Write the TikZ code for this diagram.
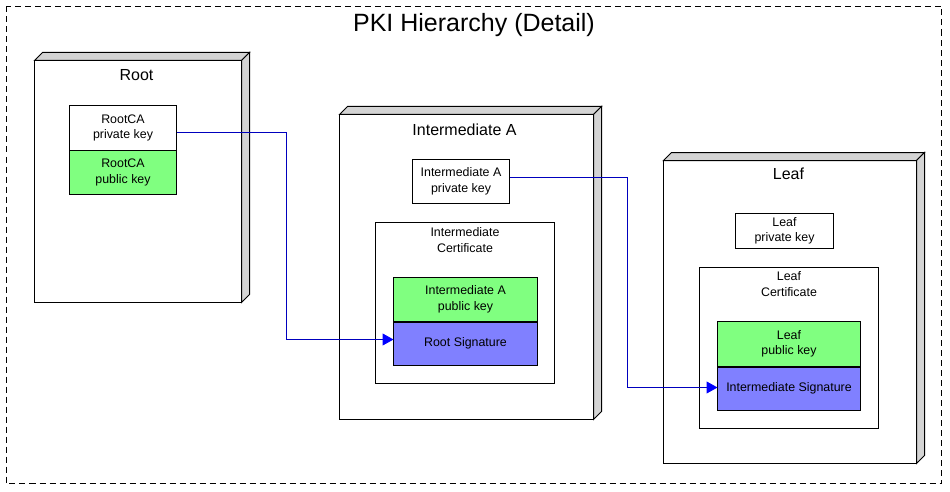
\documentclass[tikz,border=0pt]{standalone}
\usepackage{fontspec}
\setmainfont{Liberation Sans}
\usetikzlibrary{arrows.meta}
\definecolor{keygreen}{RGB}{128,255,128}
\definecolor{sigblue}{RGB}{128,128,255}
\definecolor{sidegray}{RGB}{212,212,212}
\definecolor{connblue}{RGB}{0,0,190}
\definecolor{tipblue}{RGB}{0,0,255}
\tikzset{
  small/.style={font=\fontsize{12.4}{15.5}\selectfont},
  nodebox/.style={draw=black, line width=1pt, fill=white, anchor=north west, inner sep=0pt, outer sep=0pt},
  face/.style={draw=black, line width=1pt, fill=sidegray},
  keybox/.style={draw=black, line width=1pt, fill=white, anchor=north west, inner sep=0pt, outer sep=0pt, align=center, small},
  pubbox/.style={keybox, fill=keygreen},
  sigbox/.style={keybox, fill=sigblue},
  certbox/.style={draw=black, line width=1pt, fill=white, anchor=north west, inner sep=0pt, outer sep=0pt},
  ntitle/.style={font=\fontsize{16}{19}\selectfont, inner sep=0pt},
  ctitle/.style={align=center, small, inner sep=0pt, anchor=north},
  conn/.style={draw=connblue, line width=1pt, -{Triangle[length=11pt,width=12pt,color=tipblue]}}
}
\begin{document}
\begin{tikzpicture}[x=1pt,y=-1pt]
\useasboundingbox (0,0) rectangle (950,492);
\fill[white] (0,0) rectangle (950,492);
\begin{scope}[shift={(0.5,0.5)}]
\draw[line width=1pt, dash pattern=on 6pt off 4pt] (6,6) rectangle (941,483);
\node[font=\fontsize{25}{29}\selectfont, inner sep=0pt] (title) at (473.5,25) {PKI Hierarchy (Detail)};

% Root node
\node[nodebox, minimum width=207pt, minimum height=242pt] (root) at (34,60) {};
\draw[face] (root.north west) -- ++(8,-8) -- ([xshift=8pt,yshift=8pt]root.north east) -- (root.north east) -- cycle;
\draw[face] (root.north east) -- ++(8,-8) -- ([xshift=8pt,yshift=8pt]root.south east) -- (root.south east) -- cycle;
\node[ntitle] (roott) at (136,75) {Root};
\node[keybox, minimum width=107pt, minimum height=45pt] (rpriv) at (69,105) {RootCA\\private key};
\node[pubbox, minimum width=107pt, minimum height=44pt] (rpub) at (69,150) {RootCA\\public key};

% Intermediate A node
\node[nodebox, minimum width=254pt, minimum height=305pt] (inter) at (339,114) {};
\draw[face] (inter.north west) -- ++(8,-8) -- ([xshift=8pt,yshift=8pt]inter.north east) -- (inter.north east) -- cycle;
\draw[face] (inter.north east) -- ++(8,-8) -- ([xshift=8pt,yshift=8pt]inter.south east) -- (inter.south east) -- cycle;
\node[ntitle] (intert) at (464,129) {Intermediate A};
\node[keybox, minimum width=97pt, minimum height=44pt] (ipriv) at (412,159) {Intermediate A\\private key};
\node[certbox, minimum width=179pt, minimum height=161pt] (icert) at (375,222) {};
\node[ctitle] (icertt) at (464.5,227) {Intermediate\\Certificate};
\node[pubbox, minimum width=144pt, minimum height=44pt] (ipub) at (393,277) {Intermediate A\\public key};
\node[sigbox, minimum width=144pt, minimum height=44pt] (isig) at (393,321) {Root Signature};

% Leaf node
\node[nodebox, minimum width=253pt, minimum height=303pt] (leaf) at (663,160) {};
\draw[face] (leaf.north west) -- ++(8,-8) -- ([xshift=8pt,yshift=8pt]leaf.north east) -- (leaf.north east) -- cycle;
\draw[face] (leaf.north east) -- ++(8,-8) -- ([xshift=8pt,yshift=8pt]leaf.south east) -- (leaf.south east) -- cycle;
\node[ntitle] (leaft) at (788,173) {Leaf};
\node[keybox, minimum width=98pt, minimum height=35pt] (lpriv) at (735,213) {Leaf\\private key};
\node[certbox, minimum width=179pt, minimum height=161pt] (lcert) at (699,267) {};
\node[ctitle] (lcertt) at (788.5,271) {Leaf\\Certificate};
\node[pubbox, minimum width=143pt, minimum height=45pt] (lpub) at (717,321) {Leaf\\public key};
\node[sigbox, minimum width=143pt, minimum height=44pt] (lsig) at (717,366) {Intermediate Signature};

% joins between public key and signature boxes
\draw[line width=2pt] (ipub.south west) -- (ipub.south east);
\draw[line width=2pt] (lpub.south west) -- (lpub.south east);

% connectors
\coordinate (j1) at (286,200);
\coordinate (j2) at (627,250);
\draw[conn] ([yshift=-4.5pt]rpriv.east) -| (j1) |- ([yshift=4pt]isig.west);
\draw[conn] ([yshift=4pt]ipriv.east) -| (j2) |- ([yshift=1pt]lsig.west);
\end{scope}
\end{tikzpicture}
\end{document}
